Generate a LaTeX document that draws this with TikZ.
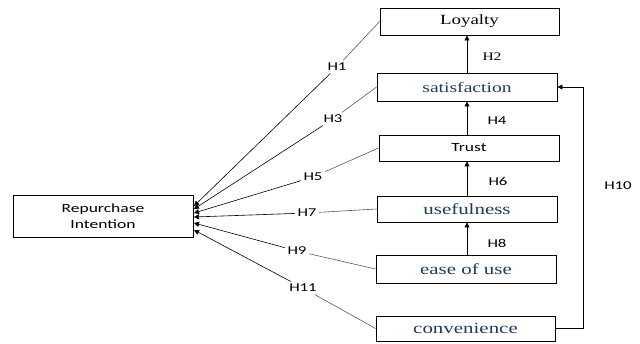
\documentclass[tikz,border=0pt]{standalone}
\usepackage{fontspec}
\setmainfont{Liberation Serif}
\newfontfamily\timesw{Liberation Serif}[FakeStretch=1.35]
\newfontfamily\calib{Carlito}[FakeStretch=1.4]
\usetikzlibrary{arrows.meta}
\definecolor{wordblue}{HTML}{1F3A5F}
\definecolor{linegray}{HTML}{5A5A5A}
\tikzset{
  box/.style={draw=black, line width=0.9pt, minimum width=180pt, inner sep=0pt, align=center},
  sansword/.style={font=\calib\fontsize{12.5}{14}\selectfont},
  hlab/.style={font=\calib\fontsize{12}{13}\selectfont, inner sep=2.5pt},
  hlabserif/.style={font=\timesw\fontsize{11.5}{13}\selectfont, inner sep=2pt},
  link/.style={draw=linegray, line width=0.6pt},
  tip/.style={-{Triangle[length=5pt,width=5pt]}, color=black},
}
\begin{document}
\begin{tikzpicture}[x=1pt,y=-1pt]
\useasboundingbox (0,0) rectangle (640,343);

% constructs
\node[box, minimum width=179pt, minimum height=27pt, font=\timesw\fontsize{14}{16}\selectfont] (loy) at (469.5,21.5) {Loyalty};
\node[box, minimum height=28pt, text=wordblue, font=\timesw\fontsize{14.5}{16}\selectfont] (sat) at (467,87) {satisfaction};
\node[box, sansword, minimum height=26pt] (tru) at (469,148) {Trust};
\node[box, minimum height=26pt, text=wordblue, font=\timesw\fontsize{15.5}{16}\selectfont] (use) at (467,209) {usefulness};
\node[box, minimum height=28pt, text=wordblue, font=\timesw\fontsize{15.5}{16}\selectfont] (eou) at (466,269) {ease of use};
\node[box, minimum width=179pt, minimum height=25pt, text=wordblue, font=\timesw\fontsize{15.5}{16}\selectfont] (con) at (465.5,328.5) {convenience};
\node[box, minimum height=42pt, text width=170pt, font=\calib\fontsize{12.5}{16}\selectfont] (rpi) at (103,216) {Repurchase\\Intention};

% chain of hypotheses on the right
\draw[link, tip] (sat.north) -- (sat.north |- loy.south);
\draw[link, tip] (tru.north -| sat.north) -- (sat.south);
\draw[link, tip] (use.north) -- (use.north |- tru.south);
\draw[link, tip] (eou.north -| use.north) -- (use.south);
\draw[link, tip] (con.east) -- ++(28,0) |- (sat.east);

\node[hlabserif] (h2) at (492,57) {H2};
\node[hlab] (h4) at (497,121) {H4};
\node[hlab] (h6) at (498,181) {H6};
\node[hlab] (h8) at (497,243) {H8};
\node[hlab] (h10) at (618,186) {H10};

% paths into repurchase intention
\coordinate (e1) at (194,206);
\coordinate (e3) at (194,209);
\coordinate (e5) at (194,213);
\coordinate (e7) at (194,217);
\coordinate (e9) at (194,223);
\coordinate (e11) at (194,230);

\node[hlab] (h1) at (337,67) {H1};
\node[hlab] (h3) at (333,119) {H3};
\node[hlab] (h5) at (313,177) {H5};
\node[hlab] (h7) at (307,213) {H7};
\node[hlab] (h9) at (297,251) {H9};
\node[hlab] (h11) at (303,288) {H11};

\draw[link] (loy.west) -- (h1);
\draw[link, tip] (h1) -- (e1);
\draw[link] (sat.west) -- (h3);
\draw[link, tip] (h3) -- (e3);
\draw[link] (tru.west) -- (h5);
\draw[link, tip] (h5) -- (e5);
\draw[link] (use.west) -- (h7);
\draw[link, tip] (h7) -- (e7);
\draw[link] (eou.west) -- (h9);
\draw[link, tip] (h9) -- (e9);
\draw[link] (con.west) -- (h11);
\draw[link, tip] (h11) -- (e11);
\end{tikzpicture}
\end{document}
